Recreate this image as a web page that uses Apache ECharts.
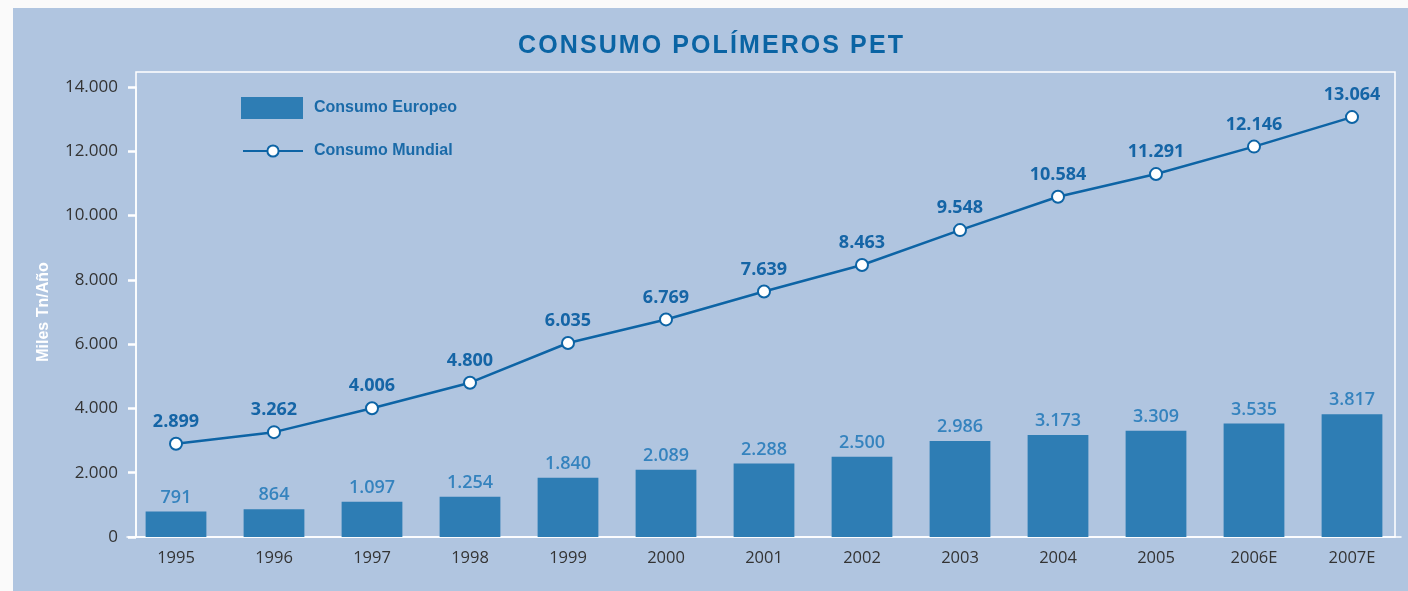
<!DOCTYPE html>
<html>
<head>
<meta charset="utf-8">
<script src="https://cdn.jsdelivr.net/npm/echarts@6/dist/echarts.min.js"></script>
<style>
  html, body { margin: 0; padding: 0; background: #fafafa; }
  #chart { position: absolute; left: 13px; top: 8px; width: 1395px; height: 583px; }
</style>
</head>
<body>
<div id="chart"></div>
<script>
// datos del gráfico
var years = ["1995", "1996", "1997", "1998", "1999", "2000", "2001", "2002", "2003", "2004", "2005", "2006E", "2007E"];
var consumoEuropeo = [791, 864, 1097, 1254, 1840, 2089, 2288, 2500, 2986, 3173, 3309, 3535, 3817];
var consumoMundial = [2899, 3262, 4006, 4800, 6035, 6769, 7639, 8463, 9548, 10584, 11291, 12146, 13064];

var tituloTexto = "CONSUMO POLÍMEROS PET";

// separador de miles con punto
var fmt = function(v) {
  return String(v).replace(/\B(?=(\d{3})+(?!\d))/g, ".");
};
// espaciado entre letras (hair space)
var espaciar = function(s) {
  return s.split("").join("\u200A");
};

// estilo del texto de la leyenda
var legendText = {
  color: "#1a6aa8",
  fontWeight: "bold",
  fontSize: 16,
  fontFamily: "Liberation Sans",
  padding: [0, 0, 0, 6]
};

var chart = echarts.init(document.getElementById("chart"));

var option = {
  backgroundColor: "#b0c5e0",
  animation: false,
  title: {
    text: espaciar(tituloTexto),
    left: "center",
    top: 21,
    textStyle: {
      color: "#0a64a4",
      fontFamily: "Liberation Sans",
      fontWeight: "bold",
      fontSize: 25
    }
  },
  legend: [
    {
      data: ["Consumo Europeo"],
      icon: "rect",
      left: 223,
      top: 84,
      itemWidth: 62,
      itemHeight: 22,
      textStyle: legendText
    },
    {
      data: ["Consumo Mundial"],
      left: 224,
      top: 130,
      itemWidth: 60,
      itemHeight: 14,
      textStyle: legendText
    }
  ],
  grid: {
    left: 114,
    right: 7,
    top: 79,
    bottom: 54
  },
  xAxis: {
    type: "category",
    data: years,
    axisLine: { lineStyle: { color: "#ffffff", width: 1.5 } },
    axisTick: { show: false },
    axisLabel: { color: "#333333", fontSize: 16.5, margin: 13, fontFamily: "Open Sans" }
  },
  yAxis: {
    type: "value",
    min: 0,
    max: 14000,
    interval: 2000,
    offset: -9,
    name: "Miles Tn/Año",
    nameLocation: "middle",
    nameGap: 84,
    nameTextStyle: { color: "#ffffff", fontWeight: "bold", fontSize: 16, fontFamily: "Liberation Sans" },
    axisLine: { show: true, lineStyle: { color: "#ffffff", width: 1.5 } },
    axisTick: { show: true, length: 8, lineStyle: { color: "#ffffff", width: 2.5 } },
    axisLabel: {
      color: "#333333",
      fontSize: 17,
      margin: 18,
      fontFamily: "Open Sans",
      formatter: function(v) { return fmt(v); }
    },
    splitLine: { show: false }
  },
  graphic: [
    {
      // marco blanco del área de trazado
      type: "rect",
      silent: true,
      shape: { x: 123, y: 64, width: 1259, height: 465 },
      style: { fill: "none", stroke: "#ffffff", lineWidth: 1.5 }
    }
  ],
  series: [
    {
      name: "Consumo Europeo",
      type: "bar",
      data: consumoEuropeo,
      barWidth: "62%",
      itemStyle: { color: "#2e7db4" },
      label: {
        show: true,
        position: "top",
        distance: 5,
        color: "#3583be",
        fontSize: 18,
        fontWeight: 600,
        fontFamily: "Open Sans",
        formatter: function(p) { return fmt(p.value); }
      }
    },
    {
      name: "Consumo Mundial",
      type: "line",
      data: consumoMundial,
      symbol: "circle",
      symbolSize: 12,
      lineStyle: { color: "#0d64a5", width: 2.5 },
      itemStyle: { color: "#ffffff", borderColor: "#0d64a5", borderWidth: 2 },
      label: {
        show: true,
        position: "top",
        distance: 6,
        color: "#1565a6",
        fontSize: 18,
        fontWeight: "bold",
        fontFamily: "Open Sans",
        formatter: function(p) { return fmt(p.value); }
      }
    }
  ]
};

chart.setOption(option);
</script>
</body>
</html>
